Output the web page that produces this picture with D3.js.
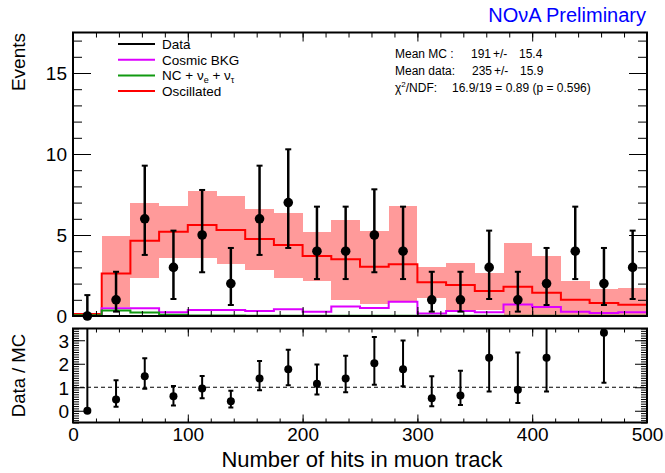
<!DOCTYPE html>
<html>
<head>
<meta charset="utf-8">
<title>Muon track hits</title>
<script src="https://d3js.org/d3.v7.min.js"></script>
<style>
  body { margin: 0; background: #fff; }
  text { font-family: "Liberation Sans", Arial, Helvetica, sans-serif; }
</style>
</head>
<body>
<svg id="chart" width="665" height="473"></svg>
<script>
// 20 bins, 25 hits wide
var binEdges = [0, 25, 50, 75, 100, 125, 150, 175, 200, 225, 250, 275, 300, 325, 350, 375, 400, 425, 450, 475];
var binWidth = 25;

// data points with asymmetric (poisson) errors
var dataCounts = [0, 1, 6, 3, 5, 2, 6, 7, 4, 4, 5, 4, 1, 1, 3, 1, 2, 4, 2, 3];
var dataErrLo  = [0, 0.73, 2.23, 1.95, 2.3, 1.32, 2.23, 2.8, 1.72, 1.72, 2.3, 1.72, 0.73, 0.73, 1.95, 0.73, 1.32, 1.72, 1.32, 1.95];
var dataErrHi  = [1.29, 1.73, 3.28, 2.27, 2.78, 2.2, 3.28, 3.29, 2.75, 2.75, 2.82, 2.75, 1.73, 1.73, 2.27, 1.73, 2.2, 2.75, 2.2, 2.27];

// oscillated prediction and its systematic band
var oscillated = [0.12, 2.63, 4.65, 5.2, 5.62, 5.31, 4.75, 4.38, 3.7, 3.5, 3.04, 3.19, 2.08, 1.92, 1.55, 1.81, 1.44, 1.01, 0.81, 0.7];
var bandLo = [0.05, 0.58, 2.37, 3.6, 3.56, 3.19, 2.84, 2.32, 2.18, 0.99, 0.77, 0.9, 1.09, 0.4, 0.37, 0, 0, 0, 0, 0];
var bandHi = [0.15, 4.94, 6.96, 6.79, 7.72, 7.41, 6.58, 6.38, 5.2, 5.93, 5.22, 6.79, 3.0, 3.25, 2.67, 4.53, 3.7, 2.18, 1.69, 1.73];

// backgrounds
var cosmicBkg = [0, 0.48, 0.48, 0.23, 0.37, 0.37, 0.31, 0.41, 0.27, 0.58, 0.49, 0.88, 0.16, 0.31, 0.23, 0.71, 0.56, 0.27, 0.19, 0.23];
var ncBkg     = [0.05, 0.34, 0.21, 0.08, 0.03, 0.03, 0.02, 0.02, 0.02, 0.02, 0.02, 0.02, 0.02, 0.02, 0.02, 0.02, 0.02, 0.02, 0.02, 0.02];

// ratio panel (null = off scale)
var ratio      = [0, 0.48, 1.47, 0.62, 0.95, 0.40, 1.37, 1.77, 1.15, 1.37, 2.02, 1.77, 0.53, 0.65, 2.26, 0.89, 2.26, null, 3.32, null];
var ratioErrLo = [0, 0.31, 0.53, 0.40, 0.42, 0.26, 0.50, 0.69, 0.46, 0.58, 0.91, 0.73, 0.34, 0.41, 1.44, 0.56, 1.44, null, 2.13, null];
var ratioErrHi = [8, 0.82, 0.76, 0.43, 0.53, 0.45, 0.75, 0.83, 0.82, 0.97, 1.12, 1.22, 0.94, 1.05, 2.5, 1.59, 2.5, null, 2.5, null];

var xTicks = [0, 100, 200, 300, 400, 500];
var yTopTicks = [0, 5, 10, 15];
var yBotTicks = [0, 1, 2, 3];

var legendItems = [
  {label: "Data", color: "#000000"},
  {label: "Cosmic BKG", color: "#dd00ff"},
  {label: "NC", color: "#119911"},
  {label: "Oscillated", color: "#ff0000"}
];

var font = "'Liberation Sans', Arial, Helvetica, sans-serif";
var svg = d3.select("#chart");

var x = d3.scaleLinear().domain([0, 500]).range([73, 647]);
var yTop = d3.scaleLinear().domain([0, 17.5]).range([316, 32.5]);
var yBot = d3.scaleLinear().domain([-0.5, 3.5]).range([422.5, 328.5]);
var intFmt = d3.format("d");

// ---------- top panel ----------
var topG = svg.append("g");

topG.selectAll("rect.band")
    .data(binEdges)
  .enter().append("rect")
    .attr("class", "band")
    .attr("x", function(d) { return x(d); })
    .attr("width", function(d) { return x(d + binWidth) - x(d); })
    .attr("y", function(d, i) { return yTop(bandHi[i]); })
    .attr("height", function(d, i) { return yTop(bandLo[i]) - yTop(bandHi[i]); })
    .attr("fill", "#ff9a9a")
    .attr("shape-rendering", "crispEdges");

function stepPoints(vals) {
  var pts = binEdges.map(function(e, i) { return [e, vals[i]]; });
  pts.push([500, vals[vals.length - 1]]);
  return pts;
}

var step = d3.line()
    .curve(d3.curveStepAfter)
    .x(function(d) { return x(d[0]); })
    .y(function(d) { return yTop(d[1]); });

[[oscillated, "#ff0000"], [cosmicBkg, "#dd00ff"], [ncBkg, "#119911"]].forEach(function(s) {
  topG.append("path")
      .datum(stepPoints(s[0]))
      .attr("fill", "none")
      .attr("stroke", s[1])
      .attr("stroke-width", 2)
      .attr("d", step);
});

// axes, ticks point inward like ROOT
function tickAxis(g, axis) {
  g.call(axis);
  g.select(".domain").remove();
  g.selectAll("line").attr("stroke", "#000").attr("stroke-width", 1);
  g.selectAll("text").attr("font-family", font).attr("fill", "#000");
  return g;
}

var minorX = d3.range(0, 501, 20);

tickAxis(topG.append("g").attr("transform", "translate(73,0)"),
  d3.axisLeft(yTop).tickValues(d3.range(0, 17.5, 1)).tickSize(-9).tickFormat(""));
tickAxis(topG.append("g").attr("transform", "translate(73,0)"),
  d3.axisLeft(yTop).tickValues(yTopTicks).tickSize(-18).tickPadding(6).tickFormat(intFmt))
  .selectAll("text").attr("font-size", 19).attr("dy", "0.36em");
tickAxis(topG.append("g").attr("transform", "translate(647,0)"),
  d3.axisRight(yTop).tickValues(d3.range(0, 17.5, 1)).tickSize(-9).tickFormat(""));
tickAxis(topG.append("g").attr("transform", "translate(647,0)"),
  d3.axisRight(yTop).tickValues(yTopTicks).tickSize(-18).tickFormat(""));
tickAxis(topG.append("g").attr("transform", "translate(0,32.5)"),
  d3.axisTop(x).tickValues(minorX).tickSize(-5).tickFormat(""));
tickAxis(topG.append("g").attr("transform", "translate(0,32.5)"),
  d3.axisTop(x).tickValues(xTicks).tickSize(-9).tickFormat(""));
tickAxis(topG.append("g").attr("transform", "translate(0,316)"),
  d3.axisBottom(x).tickValues(minorX).tickSize(-5).tickFormat(""));
tickAxis(topG.append("g").attr("transform", "translate(0,316)"),
  d3.axisBottom(x).tickValues(xTicks).tickSize(-9).tickFormat(""));

topG.append("rect")
    .attr("x", 73).attr("y", 32.5)
    .attr("width", 574).attr("height", 283.5)
    .attr("fill", "none").attr("stroke", "#000").attr("stroke-width", 2);

// data points
var pts = topG.selectAll("g.pt")
    .data(dataCounts)
  .enter().append("g")
    .attr("class", "pt");

pts.append("line")
    .attr("x1", function(d, i) { return x(binEdges[i] + binWidth / 2); })
    .attr("x2", function(d, i) { return x(binEdges[i] + binWidth / 2); })
    .attr("y1", function(d, i) { return yTop(d - dataErrLo[i]); })
    .attr("y2", function(d, i) { return yTop(d + dataErrHi[i]); })
    .attr("stroke", "#000").attr("stroke-width", 2.5);
[dataErrLo, dataErrHi].forEach(function(err, k) {
  pts.append("line")
      .attr("x1", function(d, i) { return x(binEdges[i] + binWidth / 2) - 3; })
      .attr("x2", function(d, i) { return x(binEdges[i] + binWidth / 2) + 3; })
      .attr("y1", function(d, i) { return yTop(k ? d + err[i] : d - err[i]); })
      .attr("y2", function(d, i) { return yTop(k ? d + err[i] : d - err[i]); })
      .attr("stroke", "#000").attr("stroke-width", 2);
});
pts.append("circle")
    .attr("cx", function(d, i) { return x(binEdges[i] + binWidth / 2); })
    .attr("cy", function(d) { return yTop(d); })
    .attr("r", 4.8)
    .attr("fill", "#000");

// legend
var leg = topG.append("g");
legendItems.forEach(function(item, i) {
  var yy = 44 + i * 15.7;
  leg.append("line")
      .attr("x1", 118).attr("x2", 155)
      .attr("y1", yy).attr("y2", yy)
      .attr("stroke", item.color).attr("stroke-width", 2);
  var t = leg.append("text")
      .attr("x", 162).attr("y", yy + 4.8)
      .attr("font-size", 13.5)
      .text(item.label);
  if (item.label === "NC") {
    t.append("tspan").text(" + \u03bd");
    t.append("tspan").attr("font-size", 9).attr("dy", 3).text("e");
    t.append("tspan").attr("dy", -3).text(" + \u03bd");
    t.append("tspan").attr("font-size", 9).attr("dy", 3).text("\u03c4");
  }
});

// stats box text
var stats = topG.append("g").attr("font-size", 12);
var s1 = stats.append("text").attr("y", 57.5);
s1.append("tspan").attr("x", 395).text("Mean MC :");
s1.append("tspan").attr("x", 471).text("191");
s1.append("tspan").attr("x", 493).text("+/-");
s1.append("tspan").attr("x", 519).text("15.4");
var s2 = stats.append("text").attr("y", 75);
s2.append("tspan").attr("x", 395).text("Mean data:");
s2.append("tspan").attr("x", 472).text("235");
s2.append("tspan").attr("x", 494).text("+/-");
s2.append("tspan").attr("x", 520).text("15.9");
var s3 = stats.append("text").attr("y", 91.5);
s3.append("tspan").attr("x", 395).text("\u03c7");
s3.append("tspan").attr("font-size", 8).attr("dy", -5).text("2");
s3.append("tspan").attr("dy", 5).text("/NDF:");
s3.append("tspan").attr("x", 452).text("16.9/19 = 0.89 (p = 0.596)");

svg.append("text")
    .attr("x", 646).attr("y", 22)
    .attr("text-anchor", "end")
    .attr("font-size", 20)
    .attr("fill", "#0000ff")
    .text("NO\u03bdA Preliminary");

svg.append("text")
    .attr("transform", "translate(25,33) rotate(-90)")
    .attr("text-anchor", "end")
    .attr("font-size", 19)
    .text("Events");

// ---------- ratio panel ----------
var botG = svg.append("g");
svg.append("clipPath").attr("id", "botClip")
  .append("rect").attr("x", 60).attr("y", 328.5).attr("width", 600).attr("height", 94);

var minorR = d3.range(-5, 36, 1).map(function(v) { return v / 10; });

tickAxis(botG.append("g").attr("transform", "translate(73,0)"),
  d3.axisLeft(yBot).tickValues(minorR).tickSize(-6).tickFormat(""));
tickAxis(botG.append("g").attr("transform", "translate(73,0)"),
  d3.axisLeft(yBot).tickValues(yBotTicks).tickSize(-12).tickPadding(4).tickFormat(intFmt))
  .selectAll("text").attr("font-size", 19).attr("dy", "0.36em");
tickAxis(botG.append("g").attr("transform", "translate(647,0)"),
  d3.axisRight(yBot).tickValues(minorR).tickSize(-6).tickFormat(""));
tickAxis(botG.append("g").attr("transform", "translate(647,0)"),
  d3.axisRight(yBot).tickValues(yBotTicks).tickSize(-12).tickFormat(""));
tickAxis(botG.append("g").attr("transform", "translate(0,328.5)"),
  d3.axisTop(x).tickValues(minorX).tickSize(-4).tickFormat(""));
tickAxis(botG.append("g").attr("transform", "translate(0,328.5)"),
  d3.axisTop(x).tickValues(xTicks).tickSize(-8).tickFormat(""));
tickAxis(botG.append("g").attr("transform", "translate(0,422.5)"),
  d3.axisBottom(x).tickValues(minorX).tickSize(-4).tickFormat(""));
tickAxis(botG.append("g").attr("transform", "translate(0,422.5)"),
  d3.axisBottom(x).tickValues(xTicks).tickSize(-8).tickPadding(4).tickFormat(intFmt))
  .selectAll("text").attr("font-size", 19).attr("dy", "0.75em");

botG.append("line")
    .attr("x1", 73).attr("x2", 647)
    .attr("y1", yBot(1)).attr("y2", yBot(1))
    .attr("stroke", "#000").attr("stroke-width", 1)
    .attr("stroke-dasharray", "4,3");

botG.append("rect")
    .attr("x", 73).attr("y", 328.5)
    .attr("width", 574).attr("height", 94)
    .attr("fill", "none").attr("stroke", "#000").attr("stroke-width", 2);

var rIdx = d3.range(ratio.length).filter(function(i) { return ratio[i] !== null; });
var rp = botG.append("g").attr("clip-path", "url(#botClip)")
    .selectAll("g")
    .data(rIdx)
  .enter().append("g");

rp.append("line")
    .attr("x1", function(i) { return x(binEdges[i] + binWidth / 2); })
    .attr("x2", function(i) { return x(binEdges[i] + binWidth / 2); })
    .attr("y1", function(i) { return yBot(ratio[i] - ratioErrLo[i]); })
    .attr("y2", function(i) { return yBot(ratio[i] + ratioErrHi[i]); })
    .attr("stroke", "#000").attr("stroke-width", 2);
[ratioErrLo, ratioErrHi].forEach(function(err, k) {
  rp.append("line")
      .attr("x1", function(i) { return x(binEdges[i] + binWidth / 2) - 2.5; })
      .attr("x2", function(i) { return x(binEdges[i] + binWidth / 2) + 2.5; })
      .attr("y1", function(i) { return yBot(k ? ratio[i] + err[i] : ratio[i] - err[i]); })
      .attr("y2", function(i) { return yBot(k ? ratio[i] + err[i] : ratio[i] - err[i]); })
      .attr("stroke", "#000").attr("stroke-width", 2);
});
rp.append("circle")
    .attr("cx", function(i) { return x(binEdges[i] + binWidth / 2); })
    .attr("cy", function(i) { return yBot(ratio[i]); })
    .attr("r", 4)
    .attr("fill", "#000");

svg.append("text")
    .attr("transform", "translate(25,375.5) rotate(-90)")
    .attr("text-anchor", "middle")
    .attr("font-size", 18.5)
    .text("Data / MC");

svg.append("text")
    .attr("x", 362).attr("y", 467)
    .attr("text-anchor", "middle")
    .attr("font-size", 22)
    .text("Number of hits in muon track");
</script>
</body>
</html>
